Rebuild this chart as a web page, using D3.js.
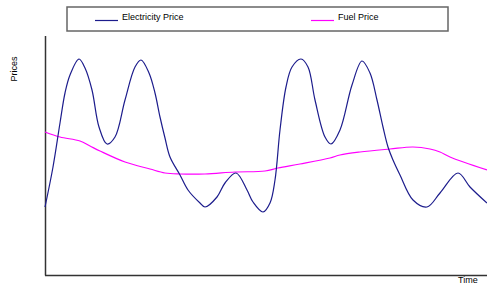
<!DOCTYPE html>
<html><head><meta charset="utf-8">
<script src="https://cdn.jsdelivr.net/npm/d3@7"></script>
<style>body{margin:0;background:#fff}svg{display:block}text{font-family:"Liberation Sans",Arial,sans-serif}</style>
</head><body><svg width="487" height="284"></svg>
<script>
const seriesNames = ["Electricity Price", "Fuel Price"];
const seriesColors = ["#1c1c8c", "#ff00ff"];
const elecTime = [0,8,15,20,25,34,40,47,54,62,70,80,90,96,104,110,115,120,125,135,143,155,160,172,180,191,202,208,218,225,230,235,241,247,256,263,270,280,286,295,307,317,325,332,338,343,348,355,368,382,395,413,425,442];
const elecPrice = [68,108,152,182,200,216,207,185,148,131,138,175,208,215,202,182,158,137,118,100,85,72,68,78,92,102,85,73,63,72,95,145,188,208,216,208,175,138,131,145,190,214,202,175,148,128,115,100,75,68,82,102,88,72];
const fuelTime = [0,15,35,45,55,80,105,120,135,160,190,220,233,255,285,295,315,345,368,385,395,405,442];
const fuelPrice = [143,138,134,129,124,113,106,102,101,101,103,104,107,111,117,120,123,126,128,126,123,118,105];

const svg = d3.select("svg");
const x = d3.scaleLinear().domain([0, 442]).range([45, 487]);
const y = d3.scaleLinear().domain([0, 240]).range([275, 35]);

// axes
svg.append("line").attr("x1", 45.5).attr("x2", 45.5).attr("y1", 36).attr("y2", 275.5).attr("stroke", "#333").attr("stroke-width", 1.5);
svg.append("line").attr("x1", 45).attr("x2", 487).attr("y1", 275.5).attr("y2", 275.5).attr("stroke", "#333").attr("stroke-width", 1.5);

const line = d3.line().x(d => x(d[0])).y(d => y(d[1])).curve(d3.curveCatmullRom.alpha(0.5));
const elec = elecTime.map((t, i) => [t, elecPrice[i]]);
const fuel = fuelTime.map((t, i) => [t, fuelPrice[i]]);
svg.append("path").attr("d", line(fuel)).attr("fill", "none").attr("stroke", seriesColors[1]).attr("stroke-width", 1.2);
svg.append("path").attr("d", line(elec)).attr("fill", "none").attr("stroke", seriesColors[0]).attr("stroke-width", 1.2);

// axis titles
svg.append("text").attr("transform", "translate(17,69) rotate(-90)").attr("text-anchor", "middle").attr("font-size", 9).text("Prices");
svg.append("text").attr("x", 458).attr("y", 283).attr("font-size", 9).text("Time");

// legend
svg.append("rect").attr("x", 67).attr("y", 7).attr("width", 381).attr("height", 24).attr("fill", "#fff").attr("stroke", "#666").attr("stroke-width", 1.5);
const legX = [95, 311];
seriesNames.forEach((n, i) => {
  svg.append("line").attr("x1", legX[i]).attr("x2", legX[i] + 23).attr("y1", 20.5).attr("y2", 20.5).attr("stroke", seriesColors[i]).attr("stroke-width", 1.2);
  svg.append("text").attr("x", legX[i] + 27).attr("y", 20).attr("font-size", 9).text(n);
});
</script></body></html>
